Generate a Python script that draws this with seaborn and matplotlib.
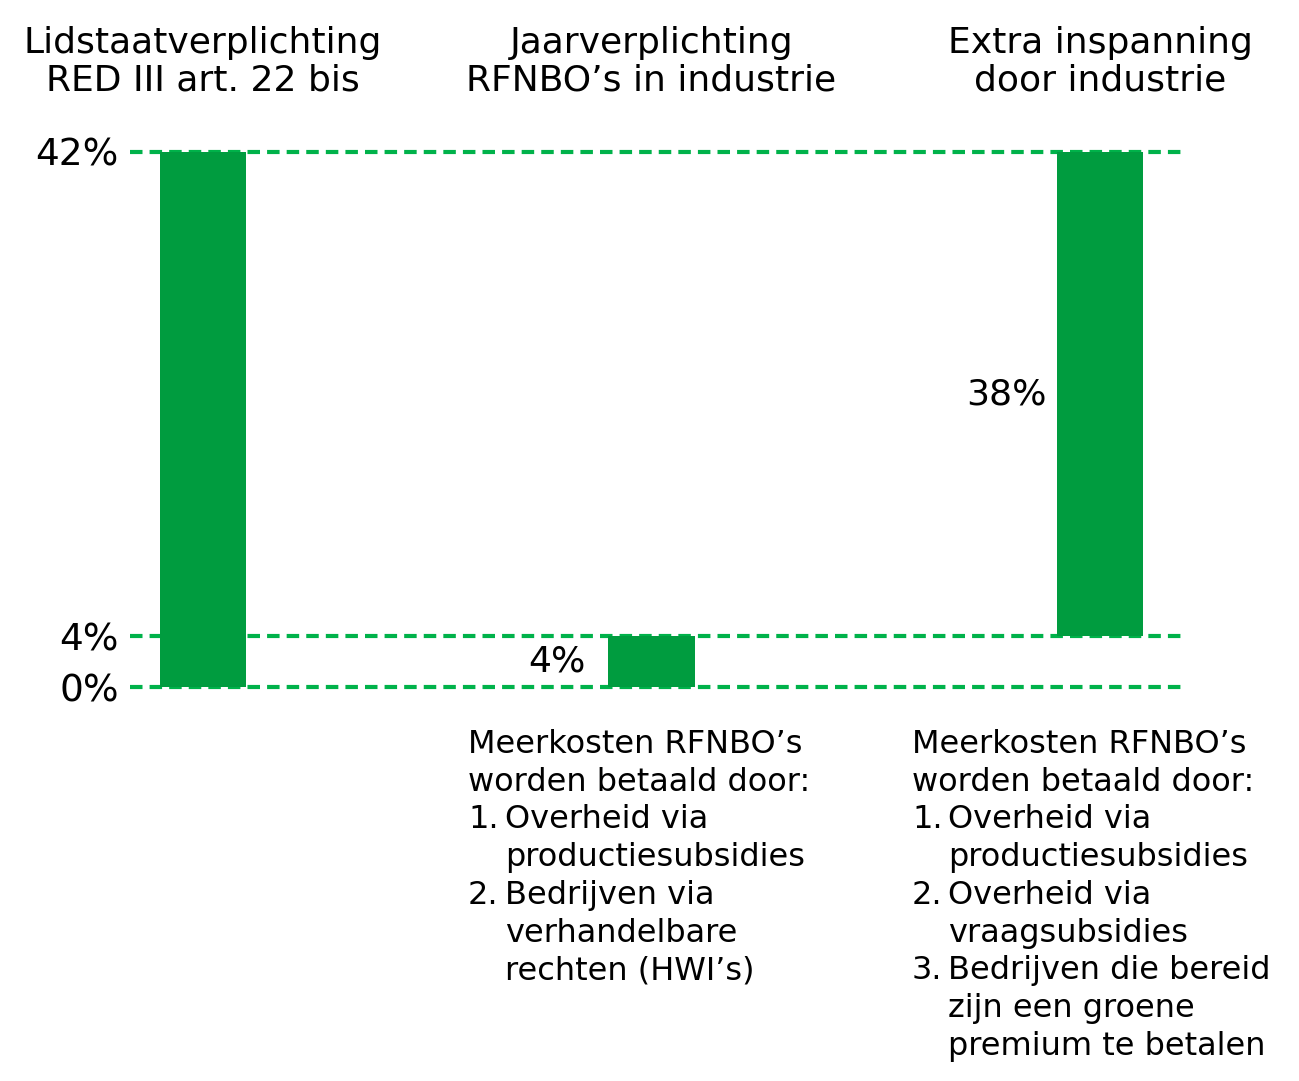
import matplotlib
matplotlib.use("Agg")
import matplotlib.pyplot as plt
import seaborn as sns
import pandas as pd

# data
categories = ["Lidstaatverplichting\nRED III art. 22 bis",
              "Jaarverplichting\nRFNBO\u2019s in industrie",
              "Extra inspanning\ndoor industrie"]
bar_base = [0, 0, 4]
bar_height = [42, 4, 38]
value_labels = ["", "4%", "38%"]
tick_values = [0, 4, 42]
tick_labels = ["0%", "4%", "42%"]

notes_mid = ["Meerkosten RFNBO\u2019s", "worden betaald door:",
             ("1.", "Overheid via"), ("", "productiesubsidies"),
             ("2.", "Bedrijven via"), ("", "verhandelbare"),
             ("", "rechten (HWI\u2019s)")]
notes_right = ["Meerkosten RFNBO\u2019s", "worden betaald door:",
               ("1.", "Overheid via"), ("", "productiesubsidies"),
               ("2.", "Overheid via"), ("", "vraagsubsidies"),
               ("3.", "Bedrijven die bereid"), ("", "zijn een groene"),
               ("", "premium te betalen")]

sns.set_style("white")
plt.rcParams['font.family'] = ['DejaVu Sans']
plt.rcParams['text.color'] = 'black'
plt.rcParams['xtick.color'] = 'black'
plt.rcParams['ytick.color'] = 'black'

bar_color = "#009C3F"
line_color = "#00B24A"

W, H = 1299, 1081
fig = plt.figure(figsize=(W / 100, H / 100), dpi=100)
# axes placed in pixel terms: x from 130 to 1185, y 0% at 687 and 42% at 152
ppu = (687 - 152) / 42
y_lo, y_hi = -1, 43
ax_bottom = 687 + (0 - y_lo) * ppu
ax_top = 687 - (y_hi - 0) * ppu
ax = fig.add_axes([130 / W, (H - ax_bottom) / H, 1055 / W, (ax_bottom - ax_top) / H])

df = pd.DataFrame({"cat": categories, "height": bar_height})
bw = 0.192
sns.barplot(data=df, x="cat", y="height", bottom=bar_base, color=bar_color,
            width=bw, saturation=1, ax=ax, zorder=3, linewidth=0)

for v in tick_values:
    ax.axhline(v, color=line_color, lw=3, ls=(0, (3.0, 1.7)), zorder=1)

ax.set_xlim(-73 / 448.5, 2 + 85 / 448.5)
ax.set_ylim(y_lo, y_hi)
ax.set_yticks(tick_values)
ax.set_yticklabels(tick_labels, fontsize=27)
ax.tick_params(axis="y", length=0, pad=8)
ax.xaxis.tick_top()
ax.tick_params(axis="x", length=0, pad=30, labelsize=26)
for t in ax.get_xticklabels():
    t.set_multialignment("center")
    t.set_linespacing(1.12)
ax.set_xlabel("")
ax.set_ylabel("")
sns.despine(ax=ax, left=True, bottom=True, top=True, right=True)

# value labels left of the bars, centred on each bar segment
offsets = [10, 23, 10]
for i, lab in enumerate(value_labels):
    if not lab:
        continue
    ymid = bar_base[i] + bar_height[i] / 2
    ax.annotate(lab, (i - bw / 2, ymid), xytext=(-offsets[i] * 0.72, 0),
                textcoords="offset points", ha="right", va="center", fontsize=26)

# explanatory notes below the chart
def draw_notes(lines, x0, x1):
    y = 753
    for ln in lines:
        if isinstance(ln, tuple):
            num, txt = ln
            if num:
                fig.text(x0 / W, (H - y) / H, num, fontsize=23, va="baseline")
            fig.text(x1 / W, (H - y) / H, txt, fontsize=23, va="baseline")
        else:
            fig.text(x0 / W, (H - y) / H, ln, fontsize=23, va="baseline")
        y += 37.7

draw_notes(notes_mid, 468, 505)
draw_notes(notes_right, 912, 948)

fig.savefig("out.png", dpi=100)
